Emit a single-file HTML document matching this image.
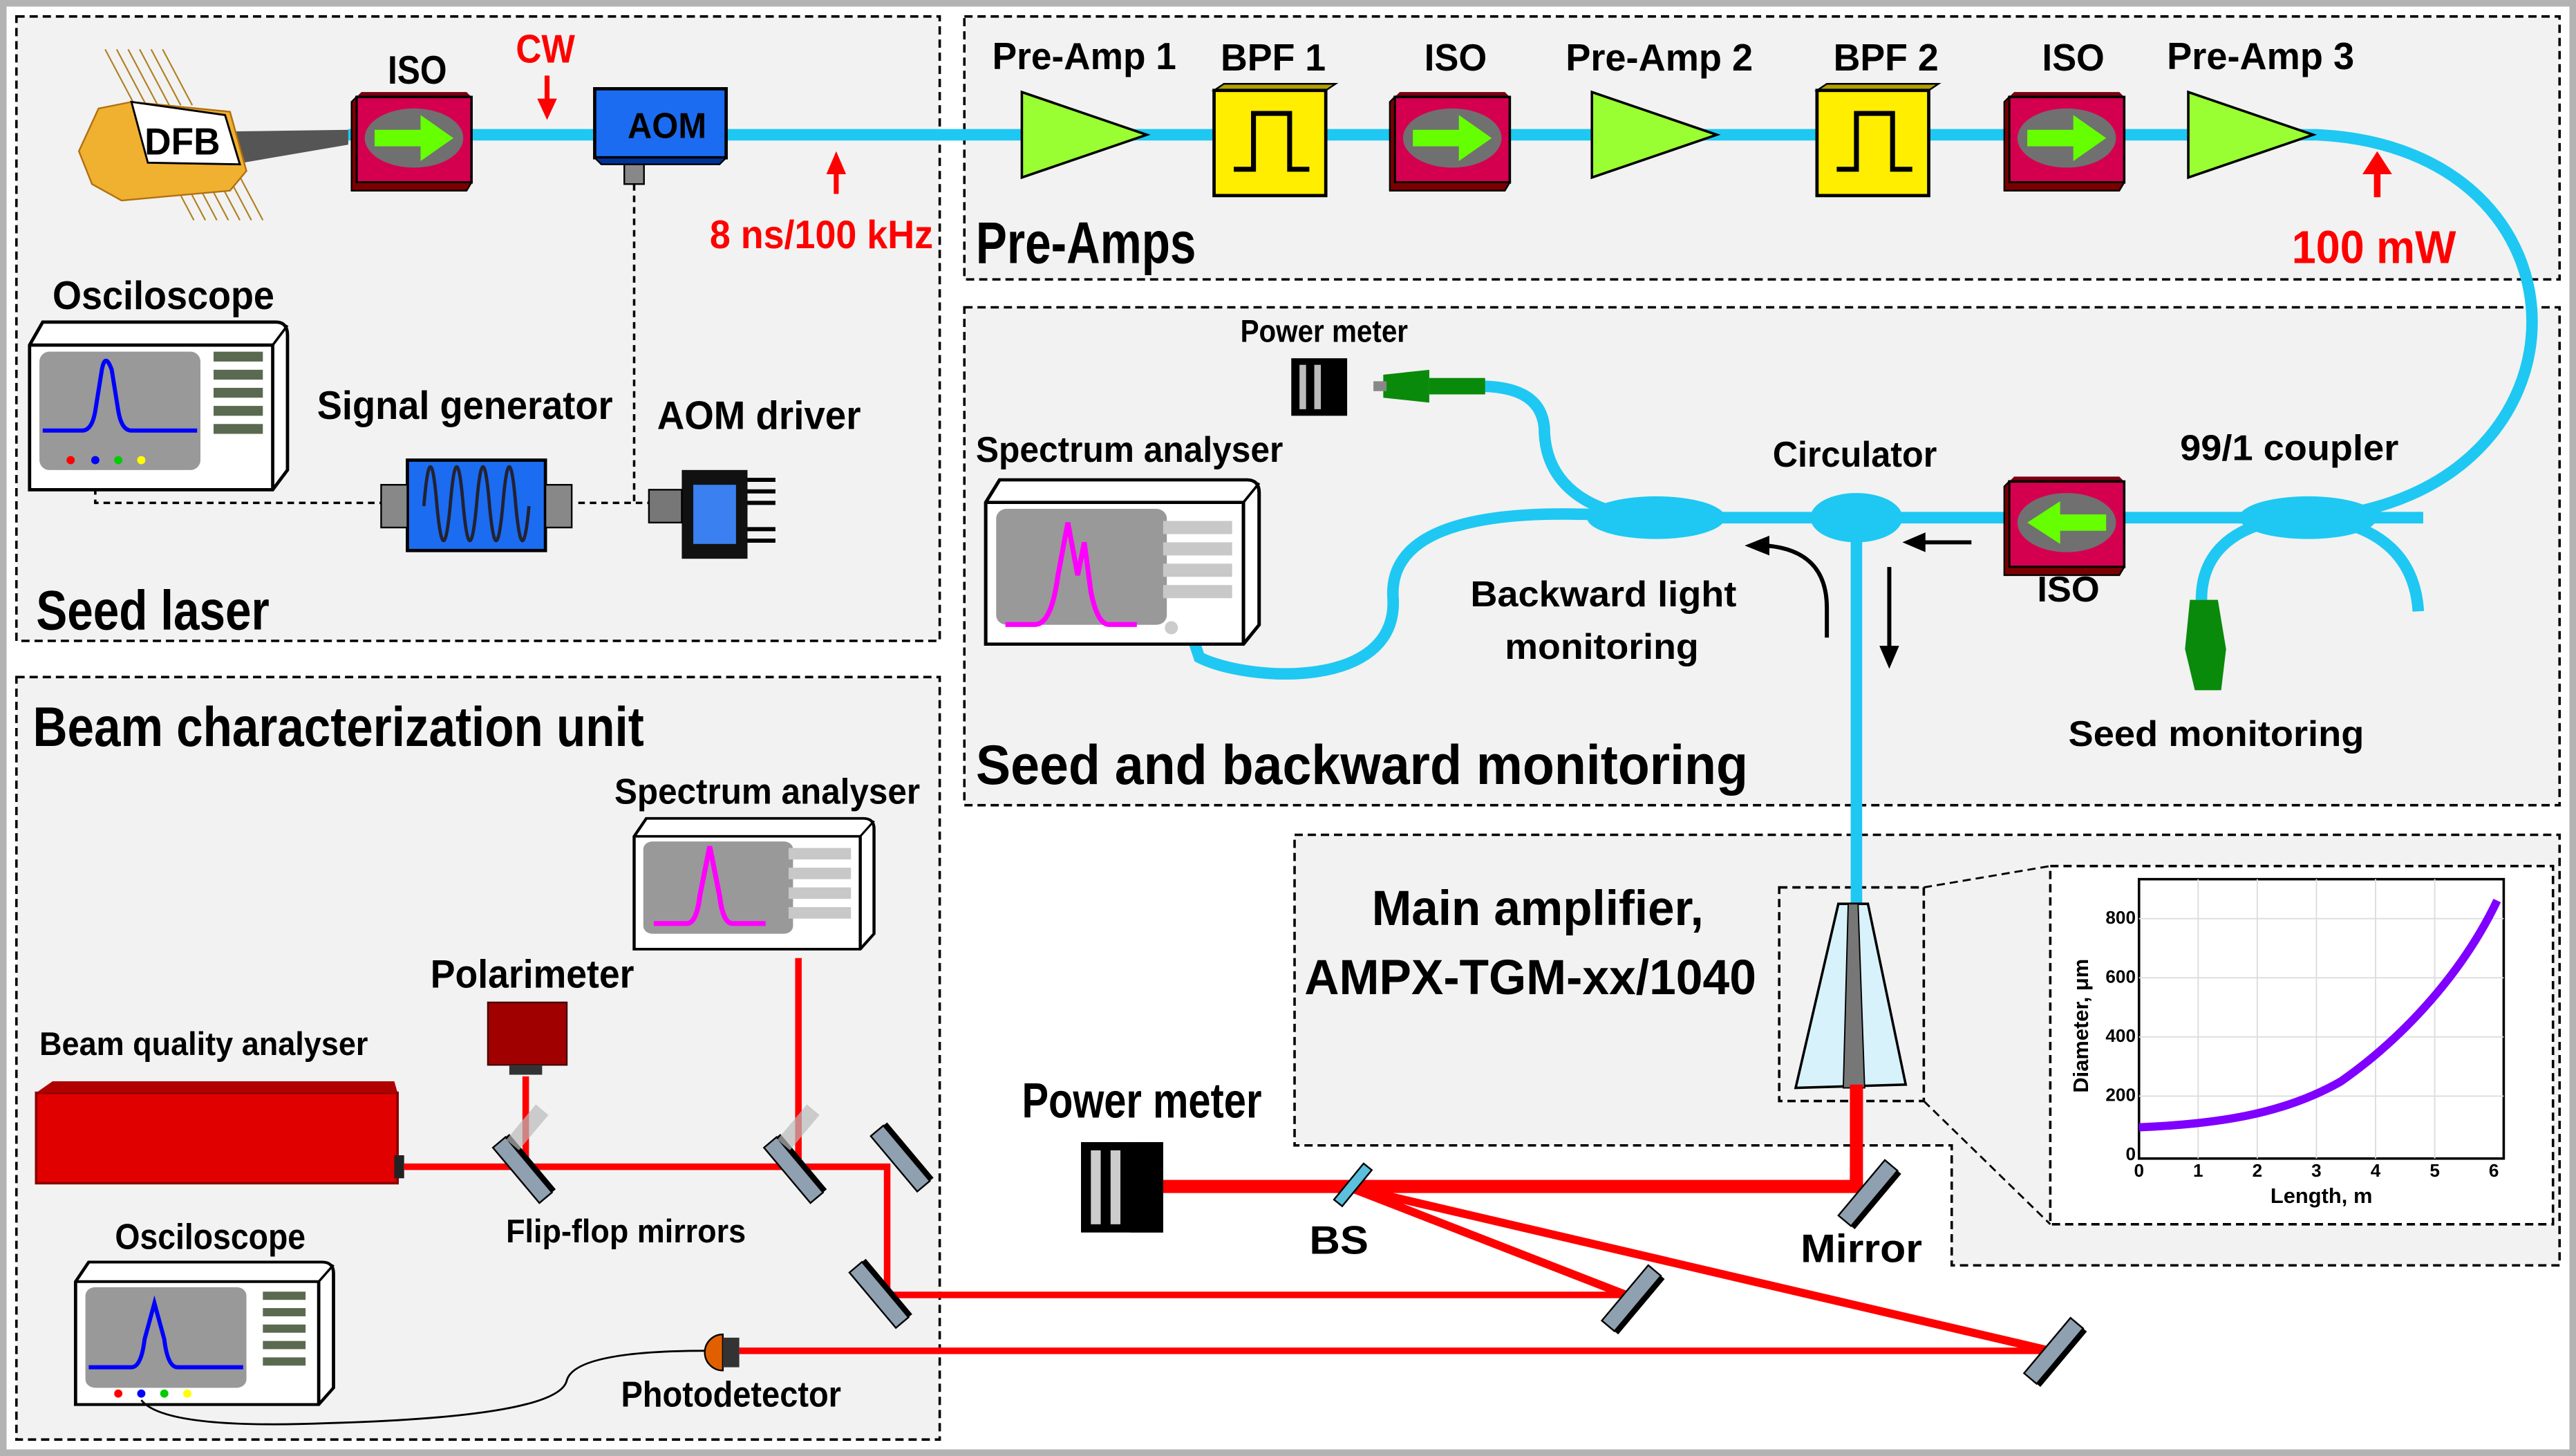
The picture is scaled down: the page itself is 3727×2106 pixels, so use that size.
<!DOCTYPE html>
<html><head><meta charset="utf-8"><style>
html,body{margin:0;padding:0;background:#fff}
svg{display:block}
text{font-family:"Liberation Sans",sans-serif;font-weight:bold;fill:#000}
</style></head><body>
<svg width="3727" height="2106" viewBox="0 0 1568 886" xmlns="http://www.w3.org/2000/svg">
<defs>
 <g id="iso">
  <polygon points="-35,-25 35,-25 32,-28 -32,-28" fill="#7a0010"/>
  <rect x="-35" y="-25" width="70" height="52" fill="#d4004f" stroke="#000" stroke-width="1.5"/>
  <polygon points="-35,27 35,27 32,32 -38,32 -38,-22 -35,-25" fill="#7a0000" stroke="#000" stroke-width="1"/>
  <ellipse cx="0" cy="0" rx="30" ry="18" fill="#707070"/>
 </g>
 <g id="arrR"><polygon points="-24,-5 4,-5 4,-14 24,0 4,14 4,5 -24,5" fill="#66ff00"/></g>
 <g id="amp"><polygon points="-38,-26 38,0 -38,26" fill="#99ff33" stroke="#000" stroke-width="1.5"/></g>
 <g id="bpf">
  <polygon points="-36,-30 -30,-34 38,-34 32,-30" fill="#b0a000" stroke="#000"/>
  <rect x="-36" y="-30" width="68" height="64" fill="#ffee00" stroke="#000" stroke-width="2"/>
  <polyline points="-24,18 -12,18 -12,-16 10,-16 10,18 22,18" fill="none" stroke="#000" stroke-width="3"/>
 </g>
 <g id="mir"><rect x="-5" y="-22" width="10" height="44" fill="#8fa0b0" stroke="#000" stroke-width="1"/><rect x="5" y="-22" width="3" height="44" fill="#000"/></g>
 <g id="pm"><rect x="0" y="0" width="50" height="55" fill="#000"/><rect x="6" y="5" width="6" height="45" fill="#ccc"/><rect x="18" y="5" width="6" height="45" fill="#ccc"/><rect x="30" y="0" width="20" height="55" fill="#000"/></g>
 <g id="osc">
  <path d="M8,0 L150,0 Q157,0 157,8 L157,90 L148,102 L0,102 L0,14 Z" fill="#fff" stroke="#000" stroke-width="2"/>
  <path d="M0,14 L148,14 L148,102" fill="none" stroke="#000" stroke-width="2"/>
  <path d="M148,14 L157,2" stroke="#000" stroke-width="1.5"/>
  <rect x="6" y="18" width="98" height="72" rx="6" fill="#999"/>
 </g>
</defs>
<rect x="0" y="0" width="1568" height="886" fill="#b3b3b3"/>
<rect x="4" y="4" width="1560" height="878" fill="#fff"/>
<g fill="#f2f2f2" stroke="#000" stroke-width="1.5" stroke-dasharray="5,3">
 <rect x="10" y="10" width="562" height="380"/>
 <rect x="587" y="10" width="971" height="160"/>
 <rect x="587" y="187" width="971" height="303"/>
 <rect x="10" y="412" width="562" height="464"/>
 <polygon points="788,508 1558,508 1558,770 1188,770 1188,697 788,697"/>
 <rect x="1083" y="540" width="88" height="130"/>
 <rect x="1248" y="527" width="306" height="218" fill="#fff"/>
</g>
<g stroke="#000" stroke-width="1.2" stroke-dasharray="5,3" fill="none">
 <line x1="1171" y1="540" x2="1248" y2="527"/><line x1="1171" y1="670" x2="1248" y2="745"/>
</g>
<!-- fibres -->
<g fill="none" stroke="#1ec8f2" stroke-width="7">
 <path d="M212,82 L1410,82 C1585,90 1585,300 1410,315"/>
 <line x1="1000" y1="315" x2="1475" y2="315"/>
 <path d="M1410,315 C1450,320 1470,340 1472,372"/>
 <path d="M1395,315 C1355,320 1340,340 1340,365"/>
 <path d="M1000,315 C960,310 940,290 940,260 C938,240 920,235 900,235"/>
 <path d="M1000,315 C880,305 845,330 848,365 C850,420 760,415 730,400 L725,385"/>
 <line x1="1130" y1="315" x2="1130" y2="550"/>
</g>
<!-- couplers -->
<ellipse cx="1008" cy="315" rx="42" ry="13" fill="#1ec8f2"/>
<ellipse cx="1130" cy="315" rx="28" ry="15" fill="#1ec8f2"/>
<ellipse cx="1405" cy="315" rx="42" ry="13" fill="#1ec8f2"/>
<!-- DFB -->
<g stroke="#b08020" stroke-width="0.9">
 <line x1="64" y1="30" x2="82" y2="64"/><line x1="71" y1="30" x2="89" y2="64"/><line x1="78" y1="30" x2="96" y2="64"/><line x1="85" y1="30" x2="103" y2="64"/><line x1="92" y1="30" x2="110" y2="64"/><line x1="99" y1="30" x2="117" y2="64"/>
 <line x1="100" y1="100" x2="118" y2="134"/><line x1="107" y1="100" x2="125" y2="134"/><line x1="114" y1="100" x2="132" y2="134"/><line x1="121" y1="100" x2="139" y2="134"/><line x1="128" y1="100" x2="146" y2="134"/><line x1="135" y1="100" x2="153" y2="134"/><line x1="142" y1="100" x2="160" y2="134"/>
</g>
<polygon points="140,80 212,79 212,88 142,100" fill="#555"/>
<polygon points="48,92 60,66 80,62 140,68 150,104 140,116 74,122 56,112" fill="#f0b030" stroke="#b07010"/>
<polygon points="80,62 137,70 146,100 90,99" fill="#fff" stroke="#000" stroke-width="1.2"/>
<text x="88" y="94" font-size="23" textLength="46" lengthAdjust="spacingAndGlyphs">DFB</text>
<!-- seed components -->
<use href="#iso" x="252" y="84"/><use href="#arrR" x="252" y="84"/>
<text x="236" y="51" font-size="24" textLength="36" lengthAdjust="spacingAndGlyphs">ISO</text>
<text x="314" y="38" font-size="24" textLength="36" lengthAdjust="spacingAndGlyphs" style="fill:#f00">CW</text>
<path d="M333,46 V62" stroke="#f00" stroke-width="3"/><polygon points="327,60 339,60 333,73" fill="#f00"/>
<rect x="362" y="54" width="80" height="42" fill="#1b6cf0" stroke="#000" stroke-width="2"/>
<polygon points="362,96 442,96 438,100 366,100" fill="#003399" stroke="#000"/>
<rect x="380" y="100" width="12" height="12" fill="#888" stroke="#000"/>
<text x="382" y="84" font-size="22" textLength="48" lengthAdjust="spacingAndGlyphs">AOM</text>
<path d="M509,118 V104" stroke="#f00" stroke-width="3"/><polygon points="503,106 515,106 509,92" fill="#f00"/>
<text x="432" y="151" font-size="24" textLength="136" lengthAdjust="spacingAndGlyphs" style="fill:#f00">8 ns/100 kHz</text>
<path d="M386,112 V307 M58,290 V306 H232 M352,306 H395" stroke="#000" stroke-width="1.5" stroke-dasharray="4,3" fill="none"/>
<text x="32" y="188" font-size="24" textLength="135" lengthAdjust="spacingAndGlyphs">Osciloscope</text>
<use href="#osc" x="18" y="196"/>
<path d="M26,262 H50 Q56,262 58,250 L62,225 Q64,214 68,225 L72,250 Q74,262 80,262 H120" stroke="#00f" stroke-width="2.5" fill="none"/>
<g fill="#5a6a50"><rect x="130" y="214" width="30" height="6"/><rect x="130" y="225" width="30" height="6"/><rect x="130" y="236" width="30" height="6"/><rect x="130" y="247" width="30" height="6"/><rect x="130" y="258" width="30" height="6"/></g>
<circle cx="43" cy="280" r="2.5" fill="#f00"/><circle cx="58" cy="280" r="2.5" fill="#00f"/><circle cx="72" cy="280" r="2.5" fill="#0c0"/><circle cx="86" cy="280" r="2.5" fill="#ff0"/>
<text x="193" y="255" font-size="24" textLength="180" lengthAdjust="spacingAndGlyphs">Signal generator</text>
<rect x="248" y="280" width="84" height="55" fill="#1b6cf0" stroke="#000" stroke-width="2"/>
<rect x="232" y="295" width="16" height="26" fill="#888" stroke="#000"/><rect x="332" y="295" width="16" height="26" fill="#888" stroke="#000"/>
<path d="M258,308 Q262,260 266,308 Q270,350 274,308 Q278,260 282,308 Q286,350 290,308 Q294,260 298,308 Q302,350 306,308 Q310,260 314,308 Q318,350 322,308" stroke="#223" stroke-width="2" fill="none"/>
<text x="400" y="261" font-size="24" textLength="124" lengthAdjust="spacingAndGlyphs">AOM driver</text>
<rect x="415" y="286" width="40" height="54" fill="#111"/><rect x="422" y="295" width="26" height="36" fill="#3a80f0"/>
<rect x="395" y="298" width="20" height="20" fill="#777" stroke="#000"/>
<g stroke="#000" stroke-width="2.5"><line x1="455" y1="292" x2="472" y2="292"/><line x1="455" y1="299" x2="472" y2="299"/><line x1="455" y1="306" x2="472" y2="306"/><line x1="455" y1="322" x2="472" y2="322"/><line x1="455" y1="329" x2="472" y2="329"/></g>
<text x="22" y="383" font-size="34" textLength="142" lengthAdjust="spacingAndGlyphs">Seed laser</text>
<!-- pre-amps -->
<use href="#amp" x="660" y="82"/><use href="#bpf" x="775" y="85"/>
<use href="#iso" x="884" y="84"/><use href="#arrR" x="884" y="84"/>
<use href="#amp" x="1007" y="82"/><use href="#bpf" x="1142" y="85"/>
<use href="#iso" x="1258" y="84"/><use href="#arrR" x="1258" y="84"/>
<use href="#amp" x="1370" y="82"/>
<g font-size="23">
<text x="604" y="42" textLength="112" lengthAdjust="spacingAndGlyphs">Pre-Amp 1</text>
<text x="743" y="43" textLength="64" lengthAdjust="spacingAndGlyphs">BPF 1</text>
<text x="867" y="43" textLength="38" lengthAdjust="spacingAndGlyphs">ISO</text>
<text x="953" y="43" textLength="114" lengthAdjust="spacingAndGlyphs">Pre-Amp 2</text>
<text x="1116" y="43" textLength="64" lengthAdjust="spacingAndGlyphs">BPF 2</text>
<text x="1243" y="43" textLength="38" lengthAdjust="spacingAndGlyphs">ISO</text>
<text x="1319" y="42" textLength="114" lengthAdjust="spacingAndGlyphs">Pre-Amp 3</text>
</g>
<text x="594" y="160" font-size="36" textLength="134" lengthAdjust="spacingAndGlyphs">Pre-Amps</text>
<path d="M1447,120 V104" stroke="#f00" stroke-width="4"/><polygon points="1438,106 1456,106 1447,92" fill="#f00"/>
<text x="1395" y="160" font-size="28" textLength="100" lengthAdjust="spacingAndGlyphs" style="fill:#f00">100 mW</text>
<!-- seed & backward -->
<text x="755" y="208" font-size="19" textLength="102" lengthAdjust="spacingAndGlyphs">Power meter</text>
<rect x="786" y="218" width="34" height="35" fill="#000"/><rect x="791" y="222" width="4" height="27" fill="#bbb"/><rect x="800" y="222" width="4" height="27" fill="#bbb"/>
<polygon points="842,228 870,225 870,245 842,242" fill="#0a8a0a"/><rect x="870" y="230" width="34" height="10" fill="#0a8a0a"/><rect x="836" y="232" width="8" height="6" fill="#888"/>
<text x="594" y="281" font-size="22" textLength="187" lengthAdjust="spacingAndGlyphs">Spectrum analyser</text>
<use href="#osc" x="600" y="292" transform="translate(600,292) scale(1.06,0.98) translate(-600,-292)"/>
<path d="M612,380 H630 Q640,380 644,350 L650,318 L656,350 L660,330 L664,360 Q668,380 675,380 H692" stroke="#f0f" stroke-width="3" fill="none"/>
<g fill="#c8c8c8"><rect x="708" y="317" width="42" height="8"/><rect x="708" y="330" width="42" height="8"/><rect x="708" y="343" width="42" height="8"/><rect x="708" y="356" width="42" height="8"/></g>
<circle cx="713" cy="382" r="4" fill="#ccc"/>
<text x="1079" y="284" font-size="22" textLength="100" lengthAdjust="spacingAndGlyphs">Circulator</text>
<text x="1327" y="280" font-size="22" textLength="133" lengthAdjust="spacingAndGlyphs">99/1 coupler</text>
<use href="#iso" x="1258" y="318"/>
<polygon points="1282,313 1254,313 1254,305 1234,318 1254,331 1254,323 1282,323" fill="#66ff00"/>
<text x="1240" y="366" font-size="22" textLength="38" lengthAdjust="spacingAndGlyphs">ISO</text>
<path d="M1200,330 H1170" stroke="#000" stroke-width="2.5"/><polygon points="1172,324 1172,336 1158,330" fill="#000"/>
<path d="M1150,345 V395" stroke="#000" stroke-width="2.5"/><polygon points="1144,393 1156,393 1150,407" fill="#000"/>
<path d="M1112,388 V370 Q1112,335 1075,332" stroke="#000" stroke-width="2.5" fill="none"/><polygon points="1077,326 1077,338 1062,332" fill="#000"/>
<text x="895" y="369" font-size="22" textLength="162" lengthAdjust="spacingAndGlyphs">Backward light</text>
<text x="916" y="401" font-size="22" textLength="118" lengthAdjust="spacingAndGlyphs">monitoring</text>
<polygon points="1333,365 1350,365 1355,395 1352,420 1336,420 1330,395" fill="#0a8a0a"/>
<text x="1259" y="454" font-size="22" textLength="180" lengthAdjust="spacingAndGlyphs">Seed monitoring</text>
<text x="594" y="477" font-size="34" textLength="470" lengthAdjust="spacingAndGlyphs">Seed and backward monitoring</text>
<!-- main amplifier -->
<text x="835" y="563" font-size="30" textLength="202" lengthAdjust="spacingAndGlyphs">Main amplifier,</text>
<text x="794" y="605" font-size="30" textLength="275" lengthAdjust="spacingAndGlyphs">AMPX-TGM-xx/1040</text>
<polygon points="1119,550 1137,550 1160,660 1093,662" fill="#d8f2fb" stroke="#000" stroke-width="1.5"/>
<polygon points="1125,550 1131,550 1135,662 1122,662" fill="#777" stroke="#000" stroke-width="0.8"/>
<!-- plot -->
<rect x="1302" y="535" width="222" height="170" fill="#fff" stroke="#000" stroke-width="1.5"/>
<g stroke="#ddd" stroke-width="0.8"><line x1="1302" y1="667" x2="1524" y2="667"/><line x1="1302" y1="631" x2="1524" y2="631"/><line x1="1302" y1="595" x2="1524" y2="595"/><line x1="1302" y1="559" x2="1524" y2="559"/><line x1="1338" y1="535" x2="1338" y2="705"/><line x1="1374" y1="535" x2="1374" y2="705"/><line x1="1410" y1="535" x2="1410" y2="705"/><line x1="1446" y1="535" x2="1446" y2="705"/><line x1="1482" y1="535" x2="1482" y2="705"/></g>
<path d="M1302,686 C1350,684 1390,678 1425,658 C1465,630 1500,590 1520,548" stroke="#8000ff" stroke-width="5" fill="none"/>
<g font-size="11" text-anchor="middle"><text x="1302" y="716">0</text><text x="1338" y="716">1</text><text x="1374" y="716">2</text><text x="1410" y="716">3</text><text x="1446" y="716">4</text><text x="1482" y="716">5</text><text x="1518" y="716">6</text></g>
<g font-size="11" text-anchor="end"><text x="1300" y="706">0</text><text x="1300" y="670">200</text><text x="1300" y="634">400</text><text x="1300" y="598">600</text><text x="1300" y="562">800</text></g>
<text x="1382" y="732" font-size="13">Length, m</text>
<text transform="translate(1271,665) rotate(-90)" font-size="13">Diameter, μm</text>
<!-- beam characterization -->
<text x="20" y="454" font-size="34" textLength="372" lengthAdjust="spacingAndGlyphs">Beam characterization unit</text>
<text x="374" y="489" font-size="22" textLength="186" lengthAdjust="spacingAndGlyphs">Spectrum analyser</text>
<use href="#osc" x="386" y="498" transform="translate(386,498) scale(0.93,0.78) translate(-386,-498)"/>
<path d="M398,562 H418 Q424,562 426,545 L432,515 L438,545 Q440,562 446,562 H466" stroke="#f0f" stroke-width="3" fill="none"/>
<g fill="#c8c8c8"><rect x="480" y="516" width="38" height="7"/><rect x="480" y="528" width="38" height="7"/><rect x="480" y="540" width="38" height="7"/><rect x="480" y="552" width="38" height="7"/></g>
<text x="262" y="601" font-size="24" textLength="124" lengthAdjust="spacingAndGlyphs">Polarimeter</text>
<rect x="297" y="610" width="48" height="38" fill="#a00000" stroke="#400"/><rect x="310" y="648" width="20" height="6" fill="#333"/>
<text x="24" y="642" font-size="20" textLength="200" lengthAdjust="spacingAndGlyphs">Beam quality analyser</text>
<rect x="22" y="665" width="220" height="55" fill="#e00000" stroke="#800" stroke-width="1.5"/>
<polygon points="22,665 32,658 240,658 242,665" fill="#b00000"/>
<rect x="240" y="703" width="6" height="14" fill="#222"/>
<!-- red beams -->
<g stroke="#f00" fill="none">
 <path d="M1130,660 V722 H700" stroke-width="8"/>
 <path d="M820,722 L995,790 M820,722 L1248,822" stroke-width="5"/>
 <path d="M995,788 H540 V710 H246" stroke-width="4"/>
 <path d="M486,710 V583" stroke-width="4"/>
 <path d="M320,710 V655" stroke-width="4"/>
 <path d="M1248,822 H450" stroke-width="4"/>
</g>
<use href="#mir" transform="translate(1137,726) rotate(40)"/>
<use href="#mir" transform="translate(993,790) rotate(40)"/>
<use href="#mir" transform="translate(1250,822) rotate(40)"/>
<use href="#mir" transform="translate(548,705) rotate(-40)"/>
<use href="#mir" transform="translate(535,788) rotate(-40)"/>
<use href="#mir" transform="translate(318,712) rotate(-40)"/>
<use href="#mir" transform="translate(483,712) rotate(-40)"/>
<polygon points="812,730 830,708 835,712 817,734" fill="#5bc0de" stroke="#000"/>
<rect x="316" y="672" width="10" height="28" fill="#bbb" opacity="0.7" transform="rotate(40 321 686)"/>
<rect x="481" y="672" width="10" height="28" fill="#bbb" opacity="0.7" transform="rotate(40 486 686)"/>
<text x="308" y="756" font-size="20" textLength="146" lengthAdjust="spacingAndGlyphs">Flip-flop mirrors</text>
<text x="622" y="680" font-size="30" textLength="146" lengthAdjust="spacingAndGlyphs">Power meter</text>
<use href="#pm" x="658" y="695"/>
<text x="797" y="763" font-size="24" textLength="36" lengthAdjust="spacingAndGlyphs">BS</text>
<text x="1096" y="768" font-size="24" textLength="74" lengthAdjust="spacingAndGlyphs">Mirror</text>
<text x="70" y="760" font-size="22" textLength="116" lengthAdjust="spacingAndGlyphs">Osciloscope</text>
<use href="#osc" x="46" y="768" transform="translate(46,768) scale(1,0.85) translate(-46,-768)"/>
<path d="M54,832 H80 Q86,832 88,815 L94,793 L100,815 Q102,832 108,832 H148" stroke="#00f" stroke-width="2.5" fill="none"/>
<g fill="#5a6a50"><rect x="160" y="786" width="26" height="5"/><rect x="160" y="796" width="26" height="5"/><rect x="160" y="806" width="26" height="5"/><rect x="160" y="816" width="26" height="5"/><rect x="160" y="826" width="26" height="5"/></g>
<circle cx="72" cy="848" r="2.5" fill="#f00"/><circle cx="86" cy="848" r="2.5" fill="#00f"/><circle cx="100" cy="848" r="2.5" fill="#0c0"/><circle cx="114" cy="848" r="2.5" fill="#ff0"/>
<path d="M86,852 Q100,870 200,866 Q340,862 345,840 Q350,822 430,822" stroke="#000" stroke-width="1.2" fill="none"/>
<path d="M440,812 A11,11 0 0,0 440,834 Z" fill="#e06000" stroke="#000"/><rect x="440" y="814" width="10" height="18" fill="#333"/>
<text x="378" y="856" font-size="22" textLength="134" lengthAdjust="spacingAndGlyphs">Photodetector</text>
</svg>
</body></html>
